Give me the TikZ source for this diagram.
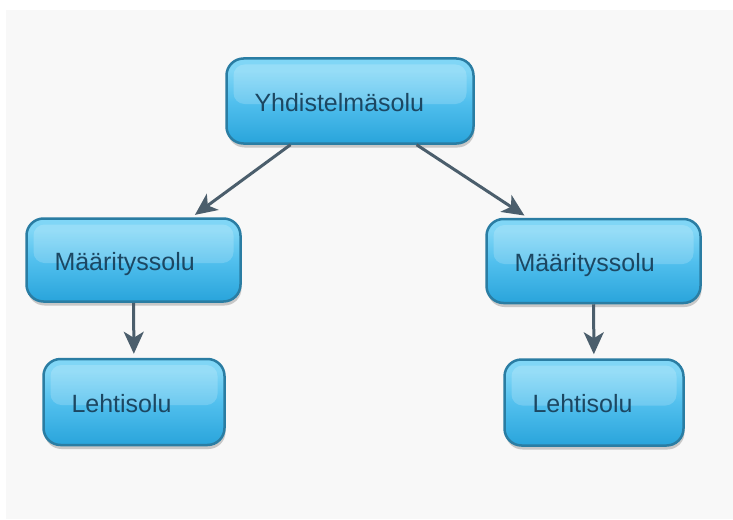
\documentclass[tikz,border=0pt]{standalone}
\usepackage{fontspec}
\setmainfont{Liberation Sans}
\usetikzlibrary{arrows.meta,shadows}
\definecolor{cellborder}{HTML}{2A7DA3}
\definecolor{celltop}{HTML}{80D6F6}
\definecolor{cellmid}{HTML}{52C0EE}
\definecolor{cellbot}{HTML}{29A4DB}
\definecolor{celltext}{HTML}{1C4762}
\definecolor{arrowc}{HTML}{4B5E6C}
\definecolor{bgc}{HTML}{F8F8F8}
\pgfdeclareverticalshading{cellshade}{100bp}{color(0bp)=(cellbot); color(25bp)=(cellbot); color(50bp)=(cellmid); color(68bp)=(celltop); color(75bp)=(celltop); color(100bp)=(celltop)}
\tikzset{
  cell/.style={draw=cellborder, line width=2.5pt, rounded corners=17pt,
    shading=cellshade,
    drop shadow={shadow xshift=1pt, shadow yshift=-4pt, opacity=0.28, fill=black!70},
    path picture={\fill[white,opacity=0.18,rounded corners=11pt]
      ([xshift=7pt,yshift=-6pt]path picture bounding box.north west) rectangle
      ([xshift=-7pt,yshift=-3pt]path picture bounding box.east);},
    font=\fontsize{25}{29}\selectfont, text=celltext, align=left,
    inner xsep=28pt, inner ysep=0pt, text height=22pt, text depth=2pt},
  conn/.style={draw=arrowc, line width=3pt, -{Stealth[length=22pt,width=20pt,inset=6pt]}, shorten >=4pt}
}
\begin{document}
\begin{tikzpicture}[x=1pt,y=-1pt]
\useasboundingbox (0,0) rectangle (733,519);
\fill[bgc] (6,10) rectangle (733,519);
\node[cell, text width=191pt, minimum height=85pt] (top) at (350,101) {Yhdistelmäsolu};
\node[cell, text width=158pt, minimum height=83pt] (lm) at (133.5,260) {Määrityssolu};
\node[cell, text width=158pt, minimum height=84pt] (rm) at (593.5,261) {Määrityssolu};
\node[cell, text width=125pt, minimum height=86pt] (lb) at (134,402) {Lehtisolu};
\node[cell, text width=123pt, minimum height=86pt] (rb) at (594,402.5) {Lehtisolu};
\draw[conn] (top) -- (lm);
\draw[conn] (top) -- (rm);
\draw[conn] (lm) -- (lb);
\draw[conn] (rm) -- (rb);
\end{tikzpicture}
\end{document}
